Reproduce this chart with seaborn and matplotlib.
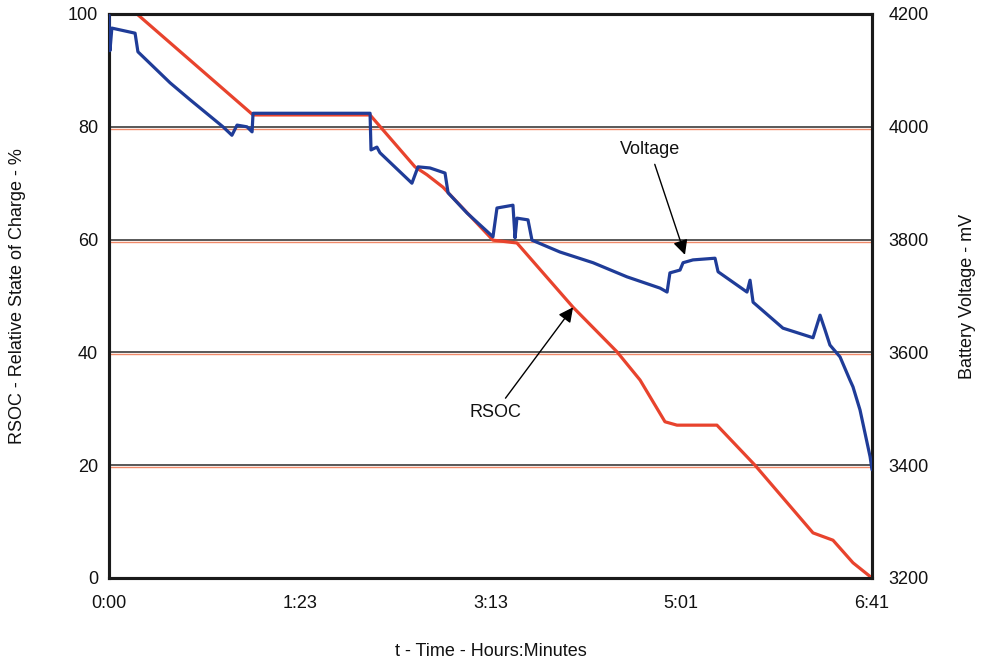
import numpy as np
import pandas as pd
import seaborn as sns
import matplotlib
matplotlib.use("Agg")
import matplotlib.pyplot as plt

# RSOC trace (minutes, %)
rsoc_min = [0, 14.7, 75.7, 137.2, 160.8, 167.1, 175.5, 201.8, 214.4, 243.9,
            267.0, 279.1, 292.2, 298.5, 319.5, 339.5, 370.0, 380.5, 391.0, 401]
rsoc_pct = [100, 100, 82.1, 82.1, 72.9, 71.5, 69.3, 59.9, 59.4, 48.0,
            40.1, 35.1, 27.7, 27.1, 27.1, 20.0, 8.0, 6.7, 2.7, 0]

# battery voltage trace (minutes, mV)
volt_min = [0, 0.5, 1.5, 13.7, 15.2, 32.1, 42.6, 59.9, 64.6, 67.3, 72.5, 75.2,
            75.7, 137.2, 137.7, 140.8, 142.4, 159.2, 162.4, 168.7, 176.6, 178.2,
            188.2, 201.8, 203.9, 212.3, 213.4, 214.4, 220.2, 222.3, 237.0, 254.4,
            272.2, 289.6, 293.3, 294.8, 300.1, 301.7, 306.9, 318.5, 320.1, 335.3,
            336.9, 338.5, 354.2, 370.0, 373.7, 376.3, 378.9, 384.2, 389.4, 391.0,
            394.7, 400.0, 401]
volt_mv = [4198, 4135, 4175, 4166, 4133, 4078, 4048, 4000, 3985, 4003, 4000, 3991,
           4024, 4024, 3959, 3964, 3954, 3900, 3929, 3927, 3918, 3883,
           3847, 3805, 3856, 3861, 3803, 3838, 3835, 3799, 3778, 3759,
           3734, 3714, 3707, 3741, 3746, 3759, 3764, 3767, 3743, 3707,
           3728, 3689, 3643, 3626, 3666, 3640, 3613, 3592, 3551, 3539,
           3498, 3415, 3392]

tick_labels = ["0:00", "1:23", "3:13", "5:01", "6:41"]
rsoc_ticks = [0, 20, 40, 60, 80, 100]
volt_ticks = [3200, 3400, 3600, 3800, 4000, 4200]

sns.set_style("white")
plt.rcParams["font.family"] = ["Liberation Sans", "DejaVu Sans"]
plt.rcParams["text.color"] = "#111111"

df_rsoc = pd.DataFrame({"t": rsoc_min, "rsoc": rsoc_pct})
df_volt = pd.DataFrame({"t": volt_min, "mv": volt_mv})

fig = plt.figure(figsize=(9.81, 6.62), dpi=100)
ax = fig.add_axes([109 / 981, 84 / 662, 763 / 981, 564 / 662])
ax2 = ax.twinx()

# grid: dark line with orange shadow
for v in rsoc_ticks[1:-1]:
    ax.axhline(v - 0.35, color="#f08a6a", lw=1.0, zorder=1)
    ax.axhline(v, color="#2b2b2b", lw=1.1, zorder=1)

sns.lineplot(data=df_rsoc, x="t", y="rsoc", ax=ax, color="#e8432d", lw=2.3,
             sort=False, zorder=3)
sns.lineplot(data=df_volt, x="t", y="mv", ax=ax2, color="#1f3c98", lw=2.3,
             sort=False, zorder=4)

ax.set_xlim(0, 401)
ax.set_ylim(0, 100)
ax2.set_ylim(3200, 4200)
ax.set_xticks(np.linspace(0, 401, 5))
ax.set_xticklabels(tick_labels)
ax.set_yticks(rsoc_ticks)
ax2.set_yticks(volt_ticks)
ax.tick_params(axis="x", labelsize=13, length=0, pad=12, labelcolor="#111111")
ax.tick_params(axis="y", labelsize=13, length=0, pad=8, labelcolor="#111111")
ax2.tick_params(labelsize=13, length=0, pad=12, labelcolor="#111111")

for a in (ax, ax2):
    for s in a.spines.values():
        s.set_color("#1a1a1a")
        s.set_linewidth(2.2)

ax.set_xlabel("")
ax.set_ylabel("")
ax2.set_ylabel("")
fig.text(0.5, 1 - 651 / 662, "t - Time - Hours:Minutes", ha="center", va="center", fontsize=13)
fig.text(18 / 981, 1 - 296 / 662, "RSOC - Relative State of Charge - %", rotation=90,
         ha="center", va="center", fontsize=13)
fig.text(968 / 981, 1 - 296 / 662, "Battery Voltage - mV", rotation=90,
         ha="center", va="center", fontsize=13)

arrow = dict(arrowstyle="-|>", color="black", lw=1.0, mutation_scale=22, shrinkA=2, shrinkB=0)
ax2.annotate("Voltage", xy=(302.7, 3773), xytext=(284.3, 3959), fontsize=13,
             ha="center", va="center", arrowprops=arrow, zorder=6)
ax2.annotate("RSOC", xy=(243.9, 3680), xytext=(202.9, 3494), fontsize=13,
             ha="center", va="center", arrowprops=arrow, zorder=6)

fig.savefig("out.png", dpi=100)
